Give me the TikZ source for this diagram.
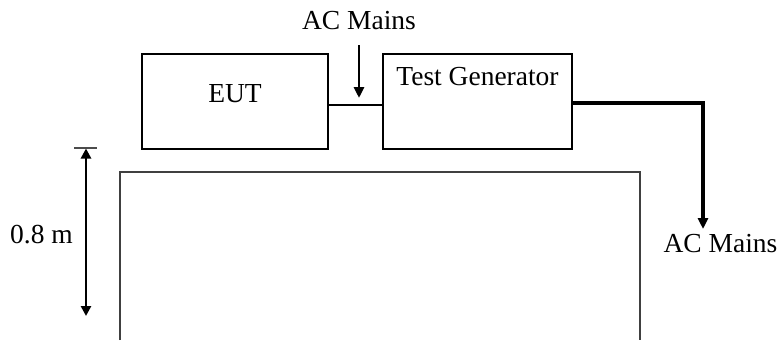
\documentclass[tikz,border=0pt]{standalone}
\usepackage{fontspec}
\setmainfont{Liberation Serif}
\usetikzlibrary{arrows.meta}
\begin{document}
\begin{tikzpicture}[x=1pt,y=-1pt,
  box/.style={draw=black, line width=1.3pt, inner sep=0pt},
  lbl/.style={inner sep=0pt, anchor=base, font=\fontsize{27.5}{33}\selectfont},
  thin/.style={draw=black, line width=1.1pt},
  heavy/.style={draw=black, line width=3.2pt},
  medium/.style={draw=black, line width=2.9pt},
  tip/.style={-{Triangle[length=11pt,width=10pt]}},
  table/.style={draw=black!75, line width=1.2pt}]
\useasboundingbox (0,0) rectangle (779,359);
% boxes
\node[box, minimum width=186pt, minimum height=95pt] (eut) at (235,101.5) {};
\node[box, minimum width=189pt, minimum height=95pt] (tg) at (477.5,101.5) {};
\node[lbl] (eutt) at (235,102) {EUT};
\node[lbl] (tgt) at (477.5,85) {Test Generator};
% connection EUT - generator
\draw[thin] ([yshift=-3.5pt]eut.east) -- ([yshift=-3.5pt]tg.west);
% AC mains top
\node[lbl] (actop) at (359,29) {AC Mains};
\coordinate (a1) at (359,45);
\coordinate (a2) at (359,98);
\draw[medium, tip] (a1) -- (a2);
% AC mains right
\node[lbl] (acbot) at (720.5,252) {AC Mains};
\coordinate (bend) at (703,103);
\coordinate (bend2) at (703,229);
\draw[heavy, tip] ([yshift=-1.5pt]tg.east) -- (bend) -- (bend2);
% table
\coordinate (t1) at (120,340);
\coordinate (t2) at (120,172);
\coordinate (t3) at (640,172);
\coordinate (t4) at (640,340);
\draw[table] (t1) -- (t2) -- (t3) -- (t4);
% dimension
\coordinate (k1) at (74,148);
\coordinate (k2) at (97,148);
\draw[draw=black!70, line width=1.2pt] (k1) -- (k2);
\coordinate (d1) at (86,148.5);
\coordinate (d2) at (86,316);
\draw[medium, {Triangle[length=10pt,width=10pt]}-{Triangle[length=10pt,width=10pt]}] (d1) -- (d2);
\node[lbl] (dim) at (41.5,243) {0.8 m};
\end{tikzpicture}
\end{document}
